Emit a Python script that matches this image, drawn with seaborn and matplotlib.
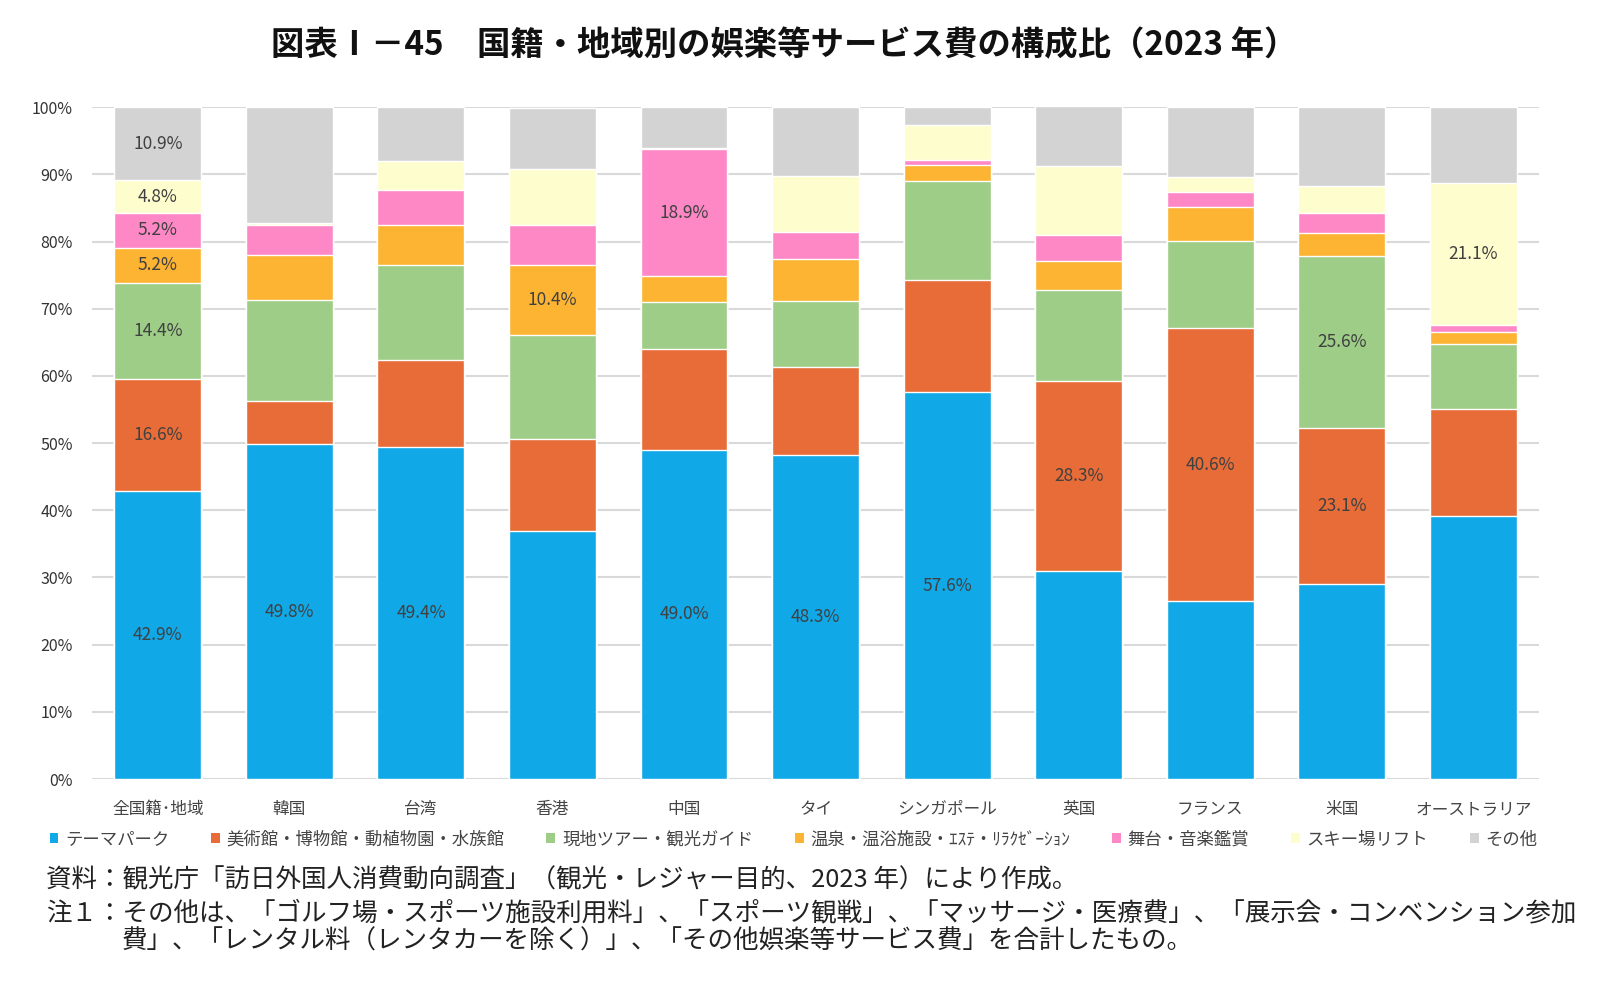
import numpy as np
import pandas as pd
import matplotlib
matplotlib.use("Agg")
import matplotlib.pyplot as plt
from matplotlib.patches import Patch
import seaborn as sns

# Data (shares in %)
countries = ['全国籍･地域', '韓国', '台湾', '香港', '中国', 'タイ',
             'シンガポール', '英国', 'フランス', '米国', 'オーストラリア']
categories = ['テーマパーク', '美術館・博物館・動植物園・水族館', '現地ツアー・観光ガイド',
              '温泉・温浴施設・ｴｽﾃ・ﾘﾗｸｾﾞｰｼｮﾝ', '舞台・音楽鑑賞', 'スキー場リフト', 'その他']
theme_park = [42.9, 49.8, 49.4, 36.9, 49.0, 48.3, 57.6, 30.9, 26.5, 29.1, 39.1]
museum     = [16.6, 6.5, 12.9, 13.7, 15.0, 13.0, 16.7, 28.3, 40.6, 23.1, 16.0]
tour       = [14.4, 15.0, 14.2, 15.5, 7.0, 9.9, 14.7, 13.6, 13.0, 25.6, 9.7]
onsen      = [5.2, 6.7, 5.9, 10.4, 3.8, 6.2, 2.4, 4.3, 5.0, 3.5, 1.7]
stage      = [5.2, 4.4, 5.2, 5.9, 18.9, 4.0, 0.8, 3.9, 2.3, 3.0, 1.1]
ski        = [4.8, 0.3, 4.4, 8.4, 0.2, 8.4, 5.1, 10.2, 2.2, 4.0, 21.1]
other      = [10.9, 17.3, 8.0, 9.1, 6.1, 10.2, 2.7, 8.9, 10.4, 11.7, 11.3]

# which bars carry a value label, per series
label_theme = [0, 1, 2, 4, 5, 6]
label_museum = [0, 7, 8, 9]
label_tour = [0, 9]
label_onsen = [0, 3]
label_stage = [0, 4]
label_ski = [0, 10]
label_other = [0]

colors = ['#10A8E6', '#E86C37', '#9DCD87', '#FCB432', '#FD88C5', '#FEFDCD', '#D3D3D3']

series = [theme_park, museum, tour, onsen, stage, ski, other]
label_idx = [label_theme, label_museum, label_tour, label_onsen, label_stage, label_ski, label_other]

sns.set_theme(style="white")
plt.rcParams['font.family'] = ['Noto Sans CJK JP', 'DejaVu Sans']

fig = plt.figure(figsize=(16, 9.83), dpi=100)
ax = fig.add_axes([0.0575, 0.2075, 0.9045, 0.6835])

vals = np.array(series)
cum = np.cumsum(vals, axis=0)

# cumulative layers, tallest first, so each shorter one covers the one behind
for i in range(len(series) - 1, -1, -1):
    df = pd.DataFrame({'country': countries, 'v': cum[i]})
    sns.barplot(data=df, x='country', y='v', color=colors[i], saturation=1,
                width=0.66, ax=ax, zorder=2)

# segment labels
for i, idxs in enumerate(label_idx):
    for j in idxs:
        ymid = cum[i][j] - vals[i][j] / 2
        ax.text(j, ymid, f"{vals[i][j]:.1f}%", ha='center', va='center',
                fontsize=12.5, color='#404040', zorder=3)

ax.set_xlim(-0.5, 10.5)
ax.set_ylim(0, 100)
ax.set_yticks(np.arange(0, 101, 10))
ax.set_yticklabels([f"{t}%" for t in range(0, 101, 10)], fontsize=11.5, color='#333333')
ax.tick_params(axis='x', labelsize=12, labelcolor='#444444', pad=16, length=0)
ax.tick_params(axis='y', pad=14, length=0)
ax.set_xlabel('')
ax.set_ylabel('')
ax.yaxis.grid(True, color='#D9D9D9', linewidth=1.5, zorder=0)
ax.set_axisbelow(True)
for s in ax.spines.values():
    s.set_visible(False)

handles = [Patch(facecolor=c, edgecolor='none') for c in colors]
fig.legend(handles, categories, loc='center', bbox_to_anchor=(0.496, 0.146), ncol=7,
           frameon=False, fontsize=12.5, handlelength=0.5, handleheight=0.5,
           handletextpad=0.4, columnspacing=2.4, labelcolor='#444444')

fig.text(0.49, 0.953, '図表Ⅰ－45　国籍・地域別の娯楽等サービス費の構成比（2023 年）',
         ha='center', va='center', fontsize=24, fontweight='bold', color='#111111')

note_kw = dict(ha='left', va='center', fontsize=18.4, color='#222222')
fig.text(0.029, 0.104, '資料：観光庁「訪日外国人消費動向調査」（観光・レジャー目的、2023 年）により作成。', **note_kw)
fig.text(0.029, 0.071, '注１：その他は、「ゴルフ場・スポーツ施設利用料」、「スポーツ観戦」、「マッサージ・医療費」、「展示会・コンベンション参加', **note_kw)
fig.text(0.076, 0.042, '費」、「レンタル料（レンタカーを除く）」、「その他娯楽等サービス費」を合計したもの。', **note_kw)

fig.savefig('out.png', dpi=100)
